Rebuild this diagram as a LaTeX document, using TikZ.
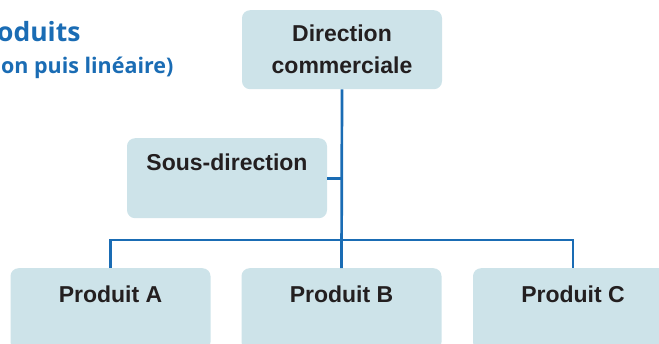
\documentclass[tikz,border=0pt]{standalone}
\usepackage{fontspec}
\setmainfont{Liberation Sans}
\newfontfamily\headfont{Open Sans}
\definecolor{boxfill}{HTML}{CDE3E9}
\definecolor{linkblue}{HTML}{1A6CB4}
\definecolor{boxtext}{HTML}{231F20}
\begin{document}
\begin{tikzpicture}[x=1pt,y=-1pt,
	unit/.style={
			shape=rectangle,
			fill=boxfill,
			rounded corners=8pt,
			minimum width=200pt,
			inner sep=0pt,
			text=boxtext,
			font=\bfseries\fontsize{23}{32}\selectfont,
			anchor=north},
	link/.style={draw=linkblue, line width=2.7pt}]
			\useasboundingbox (0,0) rectangle (659,343);
			\clip (0,0) rectangle (659,343);
			\node [text=linkblue, font=\headfont\bfseries\fontsize{26.5}{32}\selectfont, anchor=base east] (title) at (84,41) {oduits};
			\node [text=linkblue, font=\headfont\bfseries\fontsize{21.5}{24}\selectfont, anchor=base east] (subtitle) at (177,73) {on puis linéaire)};
			\node [unit, minimum height=79pt, align=center] (direction) at (342,10) {Direction\\commerciale};
			\node [unit, text height=32pt, text depth=48pt] (sous) at (227,138) {Sous-direction};
			\node [unit, text height=34pt, text depth=48pt] (prodA) at (110.5,268) {Produit A};
			\node [unit, text height=34pt, text depth=48pt] (prodB) at (341.5,268) {Produit B};
			\node [unit, text height=34pt, text depth=48pt] (prodC) at (573,268) {Produit C};
			\coordinate (bar) at (342,240);
			\draw [link] (direction.south) -- (prodB.north);
			\draw [link] (sous.east) -- (sous.east -| direction.south);
			\draw [link] (prodA.north) |- (bar) -| (prodC.north);
		\end{tikzpicture}
\end{document}
